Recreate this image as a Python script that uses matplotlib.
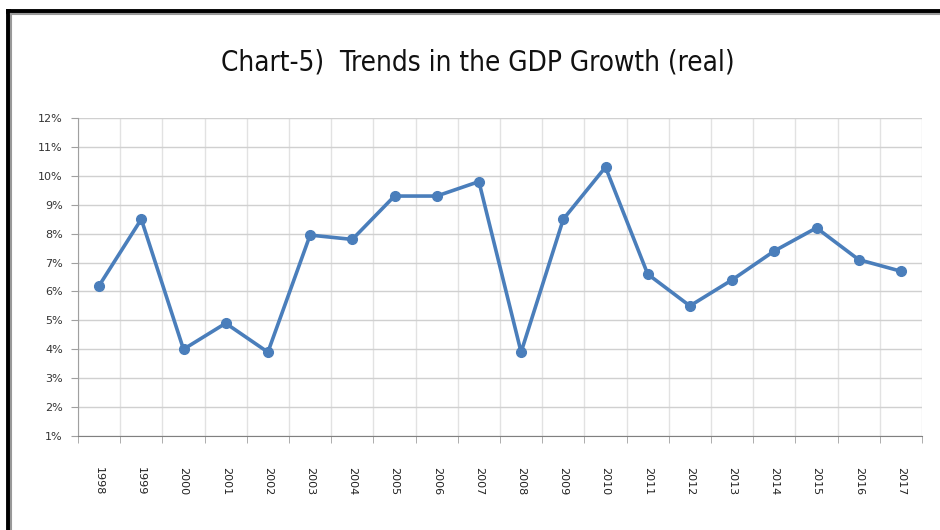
import matplotlib.pyplot as plt
from matplotlib.lines import Line2D
import numpy as np

# GDP growth (real), percent
years = ['1998', '1999', '2000', '2001', '2002', '2003', '2004', '2005', '2006', '2007',
         '2008', '2009', '2010', '2011', '2012', '2013', '2014', '2015', '2016', '2017']
growth = [6.2, 8.5, 4.0, 4.9, 3.9, 7.95, 7.8, 9.3, 9.3, 9.8,
          3.9, 8.5, 10.3, 6.6, 5.5, 6.4, 7.4, 8.2, 7.1, 6.7]
ytick_labels = ['1%', '2%', '3%', '4%', '5%', '6%', '7%', '8%', '9%', '10%', '11%', '12%']

fig = plt.figure(figsize=(9.4, 5.3), dpi=100)
ax = fig.add_axes([78 / 940, 1 - 436 / 530, 844 / 940, 318 / 530])

x = np.arange(len(years))
ax.plot(x, growth, color='#4A7EBB', lw=2.6, marker='o', ms=7, zorder=3)

ax.set_xlim(-0.5, len(years) - 0.5)
ax.set_ylim(1, 12)
ax.set_yticks(range(1, 13))
ax.set_yticklabels(ytick_labels)
ax.set_xticks(x)
ax.set_xticklabels(years, rotation=-90)
ax.set_xticks(np.arange(-0.5, len(years)), minor=True)

ax.grid(axis='y', color='#D0D0D0', lw=1)
ax.grid(axis='x', which='minor', color='#E2E2E2', lw=1)
ax.set_axisbelow(True)

ax.tick_params(axis='x', which='major', length=0, pad=22, labelsize=8, labelcolor='#222222')
ax.tick_params(axis='x', which='minor', length=5, color='#A0A0A0', direction='out')
ax.tick_params(axis='y', length=5, color='#A0A0A0', labelsize=8, labelcolor='#333333', pad=6)

for side in ['top', 'right']:
    ax.spines[side].set_visible(False)
ax.spines['left'].set_color('#A0A0A0')
ax.spines['bottom'].set_color('#808080')

fig.text(478 / 940, 1 - 62 / 530, 'Chart-5)  Trends in the GDP Growth (real)',
         ha='center', va='center', fontsize=20, fontstretch='condensed',
         family=['DejaVu Sans'], color='#111111')

# outer frame (thick black at top and left)
fig.add_artist(Line2D([8 / 940, 1], [1 - 11 / 530, 1 - 11 / 530], color='black', lw=3.5,
                      transform=fig.transFigure))
fig.add_artist(Line2D([8 / 940, 8 / 940], [0, 1 - 11 / 530], color='black', lw=3.5,
                      transform=fig.transFigure))
fig.add_artist(Line2D([11 / 940, 1], [1 - 14 / 530, 1 - 14 / 530], color='#999999', lw=1.5,
                      transform=fig.transFigure))
fig.add_artist(Line2D([11 / 940, 11 / 940], [0, 1 - 14 / 530], color='#999999', lw=1.5,
                      transform=fig.transFigure))

fig.savefig('out.png', dpi=100)
